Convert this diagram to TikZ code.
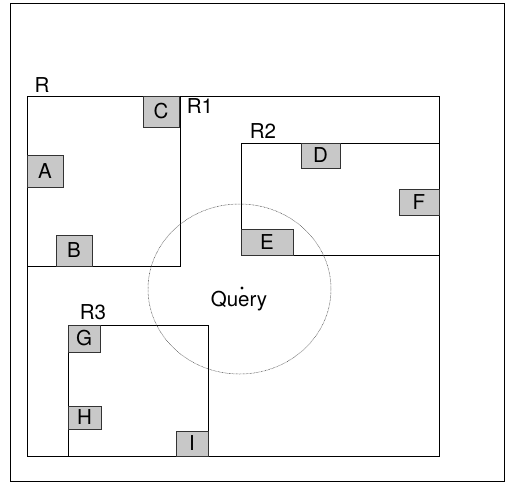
\documentclass[tikz,border=0pt]{standalone}
\usepackage{fontspec}
\setmainfont{TeX Gyre Heros}
\definecolor{shade}{HTML}{C8C8C8}
\begin{document}
\begin{tikzpicture}[x=1pt,y=-1pt,
  frame/.style={draw=black,line width=0.8pt},
  obj/.style={draw=black!80,line width=0.6pt,fill=shade,inner sep=0pt,
    font=\fontsize{20.5}{22}\selectfont},
  lbl/.style={inner sep=0pt,font=\fontsize{20.5}{22}\selectfont}]
\useasboundingbox (0,0) rectangle (508,483);
\draw[frame] (10,3) rectangle (504,481);
% R
\draw[frame] (27,96) rectangle (439,456);
\node[lbl] (Rl) at (42,85) {R};
% R1
\draw[frame] (27,96) rectangle (180,266);
\node[lbl] (R1l) at (200,106) {R1};
% R2
\draw[frame] (241,143) rectangle (439,255);
\node[lbl] (R2l) at (263,131) {R2};
% R3
\draw[frame] (68,325) rectangle (208,456);
\node[lbl] (R3l) at (93,312) {R3};
% objects
\node[obj,minimum width=36pt,minimum height=31pt] (C) at (161,111.5) {C};
\node[obj,minimum width=36pt,minimum height=32pt] (A) at (45,171) {A};
\node[obj,minimum width=36pt,minimum height=31pt] (B) at (74,250.5) {B};
\node[obj,minimum width=39pt,minimum height=25pt] (D) at (320.5,155.5) {D};
\node[obj,minimum width=40pt,minimum height=26pt] (F) at (419,202) {F};
\node[obj,minimum width=52pt,minimum height=26pt] (E) at (267,242) {E};
\node[obj,minimum width=32pt,minimum height=27pt] (G) at (84,338.5) {G};
\node[obj,minimum width=33pt,minimum height=23pt] (H) at (84.5,417.5) {H};
\node[obj,minimum width=32pt,minimum height=25pt] (I) at (192,443.5) {I};
% query
\draw[black!70,line width=0.5pt,dash pattern=on 0.7pt off 0.7pt] (239.5,289) ellipse [x radius=91.5, y radius=85];
\fill (242,288) circle [radius=1.6];
\node[lbl] (Q) at (239,301) {Query};
\end{tikzpicture}
\end{document}
